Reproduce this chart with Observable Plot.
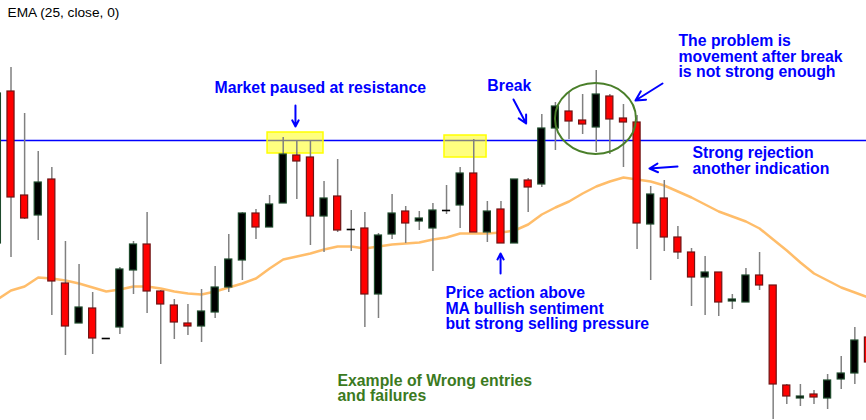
<!DOCTYPE html>
<html><head><meta charset="utf-8">
<script src="https://cdn.jsdelivr.net/npm/d3@7"></script>
<script src="https://cdn.jsdelivr.net/npm/@observablehq/plot@0.6"></script>
<style>
html,body{margin:0;padding:0;background:#fff}
#chart svg{display:block;overflow:hidden}
</style>
</head><body><div id="chart"></div>
<script>
const indicatorLabel = "EMA (25, close, 0)";

// OHLC prices, one entry per bar (bar 0 is partly off the left edge)
const open = [1.3177,1.3329,1.3225,1.3205,1.3241,1.3137,1.3097,1.3112,1.3082,1.3093,
  1.3150,1.3176,1.3129,1.3115,1.3097,1.3094,1.3108,1.3133,1.3160,1.3207,
  1.3193,1.3217,1.3265,1.3263,1.3204,1.3224,1.3191,1.3192,1.3126,1.3186,
  1.3209,1.3199,1.3192,1.3210,1.3215,1.3247,1.3188,1.3211,1.3177,1.3240,
  1.3236,1.3292,1.3309,1.3300,1.3293,1.3324,1.3302,1.3298,1.3196,1.3222,
  1.3183,1.3168,1.3143,1.3148,1.3119,1.3118,1.3145,1.3135,1.3035,1.3022,
  1.3026,1.3022,1.3041,1.3047,1.3083];
const high = [1.3327,1.3353,1.3307,1.3269,1.3253,1.3179,1.3156,1.3128,1.3082,1.3153,
  1.3179,1.3208,1.3130,1.3121,1.3116,1.3131,1.3154,1.3186,1.3208,1.3211,
  1.3225,1.3283,1.3279,1.3279,1.3239,1.3261,1.3210,1.3208,1.3187,1.3226,
  1.3214,1.3209,1.3217,1.3235,1.3253,1.3281,1.3219,1.3219,1.3241,1.3242,
  1.3306,1.3318,1.3328,1.3326,1.3350,1.3326,1.3316,1.3305,1.3234,1.3240,
  1.3194,1.3172,1.3164,1.3148,1.3126,1.3152,1.3168,1.3135,1.3036,1.3036,
  1.3030,1.3046,1.3064,1.3093,1.3090];
const low = [1.3177,1.3163,1.3201,1.3180,1.3105,1.3065,1.3097,1.3066,1.3082,1.3086,
  1.3126,1.3107,1.3056,1.3081,1.3085,1.3078,1.3102,1.3128,1.3140,1.3181,
  1.3193,1.3217,1.3221,1.3175,1.3168,1.3188,1.3169,1.3093,1.3102,1.3181,
  1.3177,1.3190,1.3149,1.3206,1.3192,1.3188,1.3178,1.3177,1.3177,1.3208,
  1.3233,1.3270,1.3281,1.3286,1.3268,1.3266,1.3253,1.3171,1.3140,1.3169,
  1.3161,1.3114,1.3105,1.3104,1.3111,1.3118,1.3130,1.3001,1.3016,1.3014,
  1.3016,1.3011,1.3031,1.3036,1.3050];
const close = [1.3327,1.3223,1.3202,1.3238,1.3139,1.3094,1.3113,1.3082,1.3082,1.3151,
  1.3176,1.3129,1.3116,1.3098,1.3094,1.3109,1.3133,1.3161,1.3207,1.3193,
  1.3216,1.3266,1.3259,1.3204,1.3222,1.3190,1.3191,1.3126,1.3185,1.3207,
  1.3197,1.3202,1.3210,1.3210,1.3247,1.3188,1.3209,1.3177,1.3241,1.3233,
  1.3292,1.3314,1.3299,1.3296,1.3326,1.3301,1.3298,1.3197,1.3226,1.3183,
  1.3168,1.3143,1.3148,1.3118,1.3121,1.3145,1.3135,1.3036,1.3024,1.3024,
  1.3023,1.3040,1.3047,1.3080,1.3058];
const ema = [1.3121,1.3130,1.3134,1.3143,1.3142,1.3140,1.3137,1.3133,1.3129,1.3131,
  1.3134,1.3134,1.3132,1.3129,1.3127,1.3126,1.3129,1.3133,1.3137,1.3142,
  1.3152,1.3161,1.3164,1.3167,1.3171,1.3174,1.3174,1.3172,1.3174,1.3176,
  1.3177,1.3178,1.3181,1.3183,1.3187,1.3187,1.3187,1.3188,1.3190,1.3196,
  1.3206,1.3213,1.3219,1.3227,1.3234,1.3239,1.3243,1.3241,1.3239,1.3235,
  1.3229,1.3223,1.3216,1.3209,1.3204,1.3199,1.3192,1.3181,1.3170,1.3158,
  1.3147,1.3140,1.3133,1.3128,1.3123];
const resistance = 1.3280;

// annotations (bar index, price)
const notes = [
  {text:"Market paused at resistance", bar:15.95, price:1.3333, color:"#0000ff"},
  {text:"Break", bar:36.0, price:1.3335, color:"#0000ff"},
  {text:"The problem is\nmovement after break\nis not strong enough", bar:50.04, price:1.3364, color:"#0000ff"},
  {text:"Strong rejection\nanother indication", bar:51.07, price:1.32595, color:"#0000ff"},
  {text:"Price action above\nMA bullish sentiment\nbut strong selling pressure", bar:32.92, price:1.3112, color:"#0000ff"},
  {text:"Example of Wrong entries\nand failures", bar:24.99, price:1.3032, color:"#3b7a1e"}
];
const arrowsData = [
  {b1:21.9, p1:1.3315, b2:21.9, p2:1.3294},
  {b1:37.92, p1:1.3321, b2:38.85, p2:1.3297},
  {b1:48.87, p1:1.3337, b2:46.88, p2:1.3320},
  {b1:49.97, p1:1.3254, b2:47.91, p2:1.3252},
  {b1:36.97, p1:1.3147, b2:36.97, p2:1.3167}
];
const zones = [
  {b1:19.85, b2:23.96, p1:1.3267, p2:1.3288},
  {b1:32.85, b2:35.94, p1:1.3263, p2:1.3285}
];
const ring = {bar:43.98, price:1.33015, rBars:2.976, rPrice:0.00355};

const candles = open.map((o,i)=>({i, open:o, high:high[i], low:low[i], close:close[i]}));
const bulls = candles.filter(d=>d.close > d.open);
const bears = candles.filter(d=>d.close < d.open);
const dojis = candles.filter(d=>d.close === d.open);
const emaPts = ema.map((v,i)=>({i, v}));
const half = 0.26;
const font = "Liberation Sans, Arial, sans-serif";

const plot = Plot.plot({
  width:866, height:420, margin:0,
  x:{domain:[0.228, 63.857], axis:null},
  y:{domain:[1.3000, 1.3420], axis:null},
  style:{background:"#fff", fontFamily:font},
  marks:[
    Plot.line(emaPts, {x:"i", y:"v", stroke:"#ffad45", strokeOpacity:0.8, strokeWidth:2.5, curve:"linear"}),
    Plot.ruleY([resistance], {stroke:"#0000ff", strokeWidth:1.3}),
    Plot.rect(zones, {x1:"b1", x2:"b2", y1:"p1", y2:"p2", fill:"#ffff00", fillOpacity:0.5, stroke:"#ffff00", strokeWidth:1.5}),
    Plot.ruleX(candles, {x:"i", y1:"low", y2:"high", stroke:"#808080", strokeWidth:1.5}),
    Plot.rect(bulls, {x1:d=>d.i-half, x2:d=>d.i+half, y1:"open", y2:"close", fill:"#000", stroke:"#1e4a2c", strokeWidth:1.2}),
    Plot.rect(bears, {x1:d=>d.i-half, x2:d=>d.i+half, y1:"open", y2:"close", fill:"#ff0000", stroke:"#6e1414", strokeWidth:1.2}),
    Plot.ruleY(dojis, {y:"open", x1:d=>d.i-half-0.04, x2:d=>d.i+half+0.04, stroke:"#000", strokeWidth:1.6}),
    Plot.text([indicatorLabel], {frameAnchor:"top-left", dx:7, dy:7, fontSize:13.7, fill:"#000", textAnchor:"start", lineAnchor:"top", fontFamily:font}),
    Plot.text(notes, {x:"bar", y:"price", text:"text", fill:d=>d.color, textAnchor:"start", lineAnchor:"middle", lineHeight:0.99, fontSize:15.8, fontWeight:"bold", fontFamily:font}),
    Plot.arrow(arrowsData, {x1:"b1", y1:"p1", x2:"b2", y2:"p2", stroke:"#0000ff", strokeWidth:2, headLength:9, headAngle:55})
  ]
});

const sx = plot.scale("x"), sy = plot.scale("y");
const cx = sx.apply(ring.bar), cy = sy.apply(ring.price);
const rx = Math.abs(sx.apply(ring.bar + ring.rBars) - cx);
const ry = Math.abs(sy.apply(ring.price + ring.rPrice) - cy);
d3.select(plot).append("ellipse")
  .attr("cx", cx).attr("cy", cy).attr("rx", rx).attr("ry", ry)
  .attr("fill", "none").attr("stroke", "#4a7f2a").attr("stroke-width", 2);

document.getElementById("chart").appendChild(plot);
</script>
</body></html>
